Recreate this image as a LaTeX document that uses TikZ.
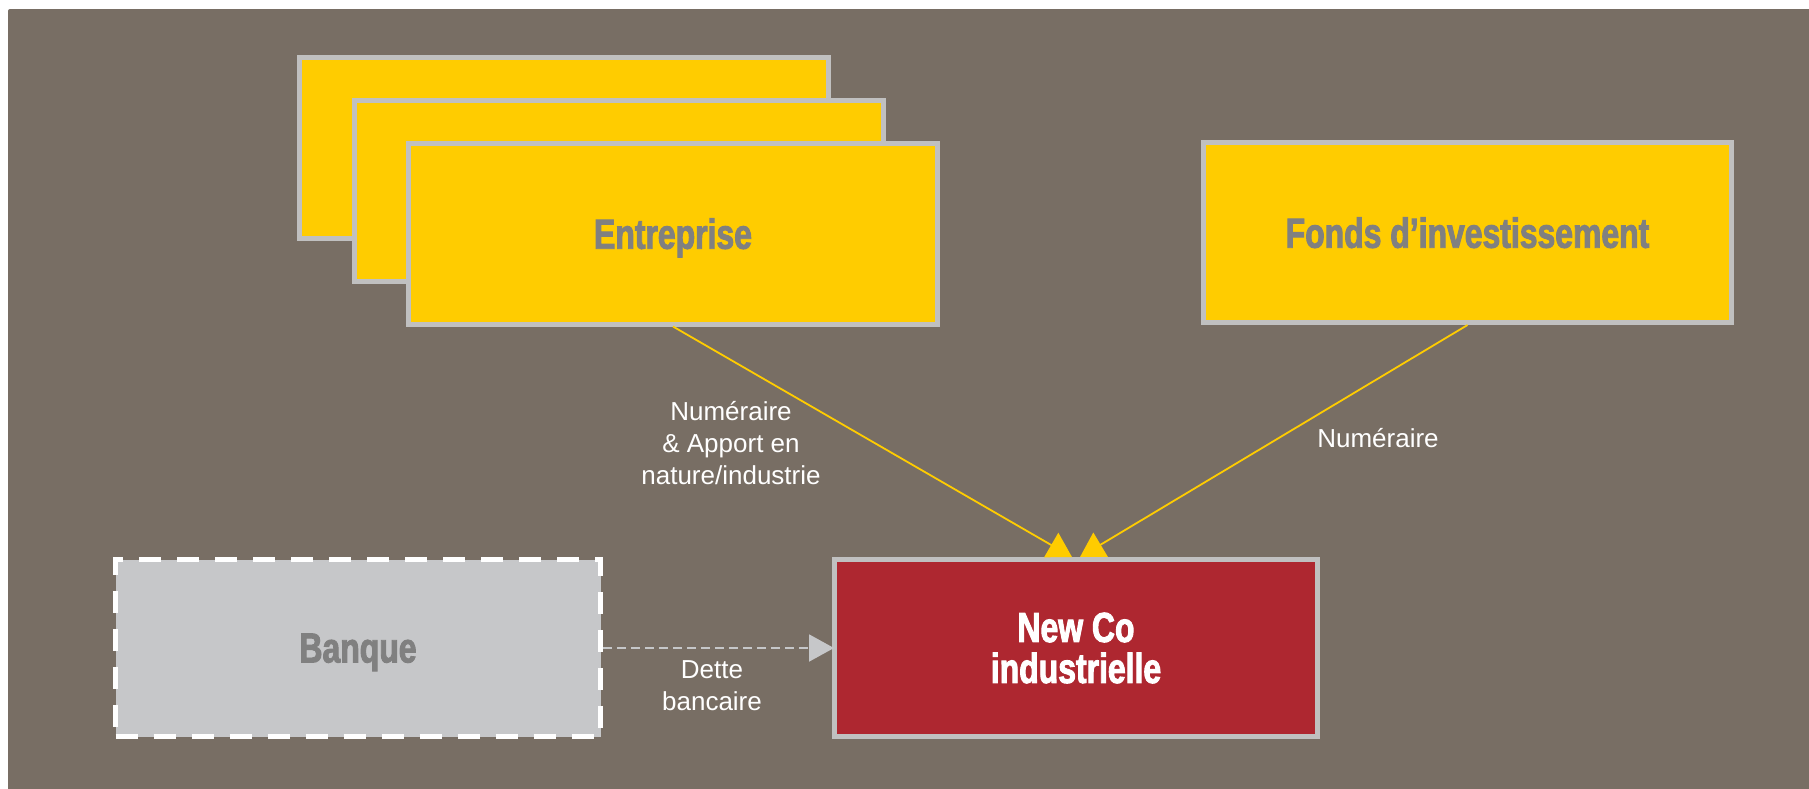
\documentclass[tikz,border=0pt]{standalone}
\usepackage{fontspec}
\setmainfont{Liberation Sans}
\newfontfamily\titlefont[FakeStretch=0.76,FakeBold=2.2]{Liberation Sans Bold}
\usetikzlibrary{arrows.meta}
\definecolor{bgbrown}{HTML}{786E64}
\definecolor{boxyellow}{HTML}{FFCC00}
\definecolor{boxedge}{HTML}{C0C0C0}
\definecolor{titlegray}{HTML}{808080}
\definecolor{newcored}{HTML}{AE2730}
\definecolor{bankgray}{HTML}{C6C7C9}
\tikzset{
  ybox/.style={draw=boxedge, line width=5pt, fill=boxyellow, inner sep=0pt, text depth=0pt,
    minimum width=529pt, minimum height=181pt, font=\titlefont\fontsize{42}{42}\selectfont, text=titlegray},
  rbox/.style={draw=boxedge, line width=5pt, fill=newcored, inner sep=0pt,
    minimum width=483pt, minimum height=177pt, font=\titlefont\fontsize{42}{41}\selectfont, text=white, align=center},
  bbox/.style={draw=white, line width=5pt, dash pattern=on 22pt off 16pt, fill=bankgray, inner sep=0pt, text depth=0pt,
    minimum width=485pt, minimum height=177pt, font=\titlefont\fontsize{42}{42}\selectfont, text=titlegray},
  lbl/.style={text=white, font=\fontsize{26}{32}\selectfont, align=center, inner sep=0pt},
  yarrow/.style={draw=boxyellow, line width=1.8pt, -{Triangle[width=28pt,length=24pt]}},
  garrow/.style={draw=bankgray, line width=2pt, dash pattern=on 9pt off 5pt, -{Triangle[width=27pt,length=25pt]}, shorten >=-2pt}
}
\begin{document}
\begin{tikzpicture}[x=1pt,y=-1pt]
\useasboundingbox (0,0) rectangle (1809,788);
\fill[white] (0,0) rectangle (1809,788);
\fill[bgbrown, rounded corners=2pt] (8,9) rectangle (1812,791);
% stacked enterprise boxes
\node[ybox] (back1) at (564,148) {};
\node[ybox] (back2) at (619,191) {};
\node[ybox] (ent) at (673,233.5) {Entreprise};
\node[ybox, minimum width=528pt, minimum height=180pt] (fonds) at (1467.5,232.5) {Fonds d’investissement};
\node[rbox] (newco) at (1076,648) {New Co\\industrielle};
\node[bbox] (banque) at (358,648) {Banque};
% connectors
\draw[yarrow] (ent.south) -- ([xshift=-4pt]newco.north);
\draw[yarrow] (fonds.south) -- ([xshift=4pt]newco.north);
\draw[garrow] (banque.east) -- (newco.west);
% labels
\node[lbl] (l1) at (731,443) {Numéraire\\\& Apport en\\nature/industrie};
\node[lbl, anchor=base] (l2) at (1378,447) {Numéraire};
\node[lbl] (l3) at (712,686) {Dette\\bancaire};
\end{tikzpicture}
\end{document}
